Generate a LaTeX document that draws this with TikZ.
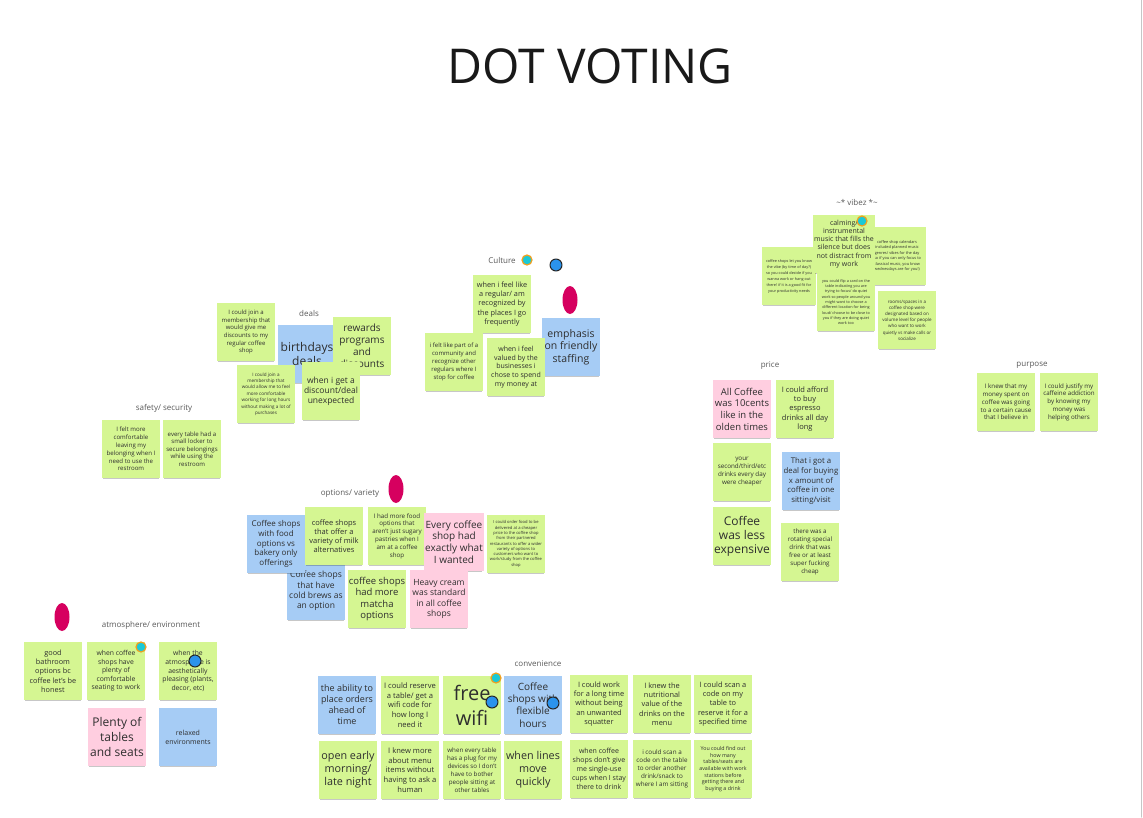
\documentclass[tikz,border=0pt]{standalone}
\usepackage{fontspec}
\setmainfont{Open Sans}
\usetikzlibrary{shadows,shapes.geometric}
% Note and dot colours
\definecolor{notegreen}{HTML}{D5F692}
\definecolor{noteblue}{HTML}{A6CCF5}
\definecolor{notepink}{HTML}{FFCEE0}
\definecolor{dotpink}{HTML}{D6005F}
\definecolor{dotteal}{HTML}{1BC9D6}
\definecolor{dotring}{HTML}{F0A020}
\definecolor{dotblue}{HTML}{2B93EC}
\definecolor{inkgray}{HTML}{2E2E2E}
\definecolor{labelgray}{HTML}{5A5A5A}
\newcommand{\nf}[2]{\fontsize{#1}{#2}\selectfont}
\tikzset{
  note/.style={minimum width=58, minimum height=58, inner sep=1, align=center, text=inkgray,
    drop shadow={shadow xshift=0pt, shadow yshift=-3pt, shadow scale=.95, opacity=.22, fill=black}},
  gnote/.style={note, fill=notegreen},
  bnote/.style={note, fill=noteblue},
  pnote/.style={note, fill=notepink},
  group/.style={text=labelgray, font=\nf{8}{10}},
  teal vote/.style={circle, fill=dotteal, draw=dotring, line width=1.2, minimum size=10, inner sep=0},
  blue vote/.style={circle, fill=dotblue, draw=black!85, line width=1, minimum size=12, inner sep=0},
  pink vote/.style={ellipse, fill=dotpink, minimum width=15, minimum height=28, inner sep=0}
}
\begin{document}
\begin{tikzpicture}[yscale=-1, x=1pt, y=1pt, line join=round, line cap=round]
\useasboundingbox[fill=white] (0,0) rectangle (1143,817);
\draw[gray!45, line width=1] (1141,0) -- (1141,817);
\node[text=black!90, font=\nf{48}{56}] (title) at (590,66) {DOT VOTING};
% ~* vibez *~
\node[group] (vibez) at (857,202) {\textasciitilde* vibez *\textasciitilde};
\node[gnote, minimum width=54, font=\nf{3.8}{6}] (vibeLeft) at (789,276) {coffee shops let you know\\the vibe (by time of day?)\\so you could decide if you\\wanna work or hang out\\there! if it is a good fit for\\your productivity needs};
\node[gnote, font=\nf{3.9}{5.4}] (vibeCalendar) at (897,256) {coffee shop calendars\\included planned music\\genres/ vibes for the day\\(so if you can only focus to\\classical music, you know\\wednesdays are for you!)};
\node[gnote, font=\nf{4.5}{6.2}] (vibeRooms) at (907,320) {rooms/spaces in a\\coffee shop were\\designated based on\\volume level for people\\who want to work\\quietly vs make calls or\\socialize};
\node[gnote, font=\nf{7}{8.3}] (vibeCalm) at (844,244) {calming/\\instrumental\\music that fills the\\silence but does\\not distract from\\my work};
\node[gnote, font=\nf{3.8}{5.3}] (vibeFlip) at (846,302) {you could flip a card on the\\table indicating you are\\trying to focus/ do quiet\\work so people around you\\might want to choose a\\different location for being\\loud/ choose to be close to\\you if they are doing quiet\\work too};
\node[teal vote] (vibeVote) at (862,221) {};
% Culture
\node[group] (culture) at (502,260) {Culture};
\node[teal vote] (cultVoteA) at (527,260) {};
\node[blue vote] (cultVoteB) at (556,265) {};
\node[pink vote] (cultVoteC) at (570,300) {};
\node[gnote, font=\nf{7.3}{9.4}] (cultRegular) at (502,304) {when i feel like\\a regular/ am\\recognized by\\the places I go\\frequently};
\node[bnote, font=\nf{10.5}{12.7}] (cultStaff) at (571,347) {emphasis\\on friendly\\staffing};
\node[gnote, font=\nf{6}{8}] (cultCommunity) at (454,362) {i felt like part of a\\community and\\recognize other\\regulars where I\\stop for coffee};
\node[gnote, font=\nf{7}{8.7}] (cultValued) at (516,367) {when i feel\\valued by the\\businesses i\\chose to spend\\my money at};
% deals
\node[group] (deals) at (309,313) {deals};
\node[gnote, font=\nf{6}{7.7}] (dealMember) at (246,332) {I could join a\\membership that\\would give me\\discounts to my\\regular coffee\\shop};
\node[bnote, font=\nf{12}{14.3}] (dealBirthday) at (307,354) {birthdays\\deals};
\node[gnote, font=\nf{10}{12}] (dealRewards) at (362,346) {rewards\\programs\\and\\discounts};
\node[gnote, font=\nf{4.6}{6.4}] (dealComfort) at (266,394) {I could join a\\membership that\\would allow me to feel\\more comfortable\\working for long hours\\without making a lot of\\purchases};
\node[gnote, font=\nf{8.5}{10}] (dealUnexpected) at (331,391) {when i get a\\discount/deal\\unexpected};
% safety/ security
\node[group] (safety) at (164,408) {safety/ security};
\node[gnote, font=\nf{6.1}{7.8}] (safeBelong) at (131,449) {I felt more\\comfortable\\leaving my\\belonging when I\\need to use the\\restroom};
\node[gnote, font=\nf{6.1}{7.5}] (safeLocker) at (192,449) {every table had a\\small locker to\\secure belongings\\while using the\\restroom};
% options/ variety
\node[group] (options) at (350,494) {options/ variety};
\node[pink vote] (optVote) at (396,489) {};
\node[bnote, font=\nf{8.5}{10.4}] (optCold) at (316,591) {Coffee shops\\that have\\cold brews as\\an option};
\node[bnote, font=\nf{8}{9.7}] (optFood) at (276,544) {Coffee shops\\with food\\options vs\\bakery only\\offerings};
\node[gnote, font=\nf{7.5}{9}] (optMilk) at (334,536) {coffee shops\\that offer a\\variety of milk\\alternatives};
\node[gnote, font=\nf{6.2}{7.8}] (optSugar) at (397,536) {I had more food\\options that\\aren't just sugary\\pastries when I\\am at a coffee\\shop};
\node[gnote, font=\nf{9.5}{11.3}] (optMatcha) at (377,599) {coffee shops\\had more\\matcha\\options};
\node[pnote, font=\nf{10}{11.7}] (optExact) at (454,542) {Every coffee\\shop had\\exactly what\\I wanted};
\node[gnote, font=\nf{4.1}{5.3}] (optDeliver) at (516,544) {I could order food to be\\delivered at a cheaper\\price to the coffee shop\\from their partnered\\restaurants to offer a wider\\variety of options to\\customers who want to\\work/study from the coffee\\shop};
\node[pnote, font=\nf{8.5}{10.3}] (optCream) at (439,599) {Heavy cream\\was standard\\in all coffee\\shops};
% price
\node[group] (price) at (770,366) {price};
\node[pnote, font=\nf{9.5}{11.7}] (priceTen) at (742,409) {All Coffee\\was 10cents\\like in the\\olden times};
\node[gnote, font=\nf{7.5}{9.4}] (priceAfford) at (805,409) {I could afford\\to buy\\espresso\\drinks all day\\long};
\node[gnote, font=\nf{6.3}{8}] (priceSecond) at (742,472) {your\\second/third/etc\\drinks every day\\were cheaper};
\node[bnote, font=\nf{7.8}{9.7}] (priceDeal) at (811,481) {That i got a\\deal for buying\\x amount of\\coffee in one\\sitting/visit};
\node[gnote, font=\nf{12}{14}] (priceLess) at (742,536) {Coffee\\was less\\expensive};
\node[gnote, font=\nf{6.2}{7.9}] (priceRotate) at (810,552) {there was a\\rotating special\\drink that was\\free or at least\\super fucking\\cheap};
% purpose
\node[group] (purpose) at (1032,365) {purpose};
\node[gnote, font=\nf{6.2}{7.8}] (purCause) at (1006,402) {I knew that my\\money spent on\\coffee was going\\to a certain cause\\that I believe in};
\node[gnote, font=\nf{6.2}{7.8}] (purJustify) at (1069,402) {I could justify my\\caffeine addiction\\by knowing my\\money was\\helping others};
% atmosphere/ environment
\node[pink vote] (atmoVote) at (62,617) {};
\node[group] (atmosphere) at (151,625) {atmosphere/ environment};
\node[gnote, font=\nf{7.3}{9.3}] (atmoBath) at (53,671) {good\\bathroom\\options bc\\coffee let's be\\honest};
\node[gnote, font=\nf{6.8}{8.6}] (atmoSeat) at (116,671) {when coffee\\shops have\\plenty of\\comfortable\\seating to work};
\node[gnote, font=\nf{6.8}{8.6}] (atmoPretty) at (188,671) {when the\\atmosphere is\\aesthetically\\pleasing (plants,\\decor, etc)};
\node[pnote, font=\nf{12}{15}] (atmoPlenty) at (117,737) {Plenty of\\tables\\and seats};
\node[bnote, font=\nf{7}{9}] (atmoRelax) at (188,737) {relaxed\\environments};
\node[teal vote] (atmoVoteA) at (141,647) {};
\node[blue vote] (atmoVoteB) at (195,661) {};
% convenience
\node[group] (convenience) at (538,664) {convenience};
\node[bnote, font=\nf{9}{11}] (convAhead) at (347,705) {the ability to\\place orders\\ahead of\\time};
\node[gnote, font=\nf{7.6}{9.6}] (convReserve) at (410,705) {I could reserve\\a table/ get a\\wifi code for\\how long I\\need it};
\node[gnote, font=\nf{20}{25}] (convWifi) at (472,705) {free\\wifi};
\node[bnote, font=\nf{10}{12.3}] (convHours) at (533,705) {Coffee\\shops with\\flexible\\hours};
\node[gnote, font=\nf{10.8}{13}] (convEarly) at (348,770) {open early\\morning/\\late night};
\node[gnote, font=\nf{7.6}{9.6}] (convMenu) at (410,770) {I knew more\\about menu\\items without\\having to ask a\\human};
\node[gnote, font=\nf{6.2}{7.9}] (convPlug) at (472,770) {when every table\\has a plug for my\\devices so I don't\\have to bother\\people sitting at\\other tables};
\node[gnote, font=\nf{10.8}{13}] (convLines) at (533,770) {when lines\\move\\quickly};
\node[gnote, font=\nf{7.4}{9.3}] (convSquat) at (599,704) {I could work\\for a long time\\without being\\an unwanted\\squatter};
\node[gnote, font=\nf{7.4}{9.3}] (convNutri) at (662,704) {I knew the\\nutritional\\value of the\\drinks on the\\menu};
\node[gnote, font=\nf{7.4}{9.3}] (convScan) at (723,704) {I could scan a\\code on my\\table to\\reserve it for a\\specified time};
\node[gnote, font=\nf{7}{8.9}] (convCups) at (599,769) {when coffee\\shops don't give\\me single-use\\cups when I stay\\there to drink};
\node[gnote, font=\nf{6.3}{8}] (convOrder) at (662,769) {i could scan a\\code on the table\\to order another\\drink/snack to\\where I am sitting};
\node[gnote, font=\nf{5.3}{6.7}] (convSeats) at (723,769) {You could find out\\how many\\tables/seats are\\available with work\\stations before\\getting there and\\buying a drink};
\node[teal vote] (convVoteA) at (496,678) {};
\node[blue vote] (convVoteB) at (492,702) {};
\node[blue vote] (convVoteC) at (553,703) {};
\end{tikzpicture}
\end{document}
